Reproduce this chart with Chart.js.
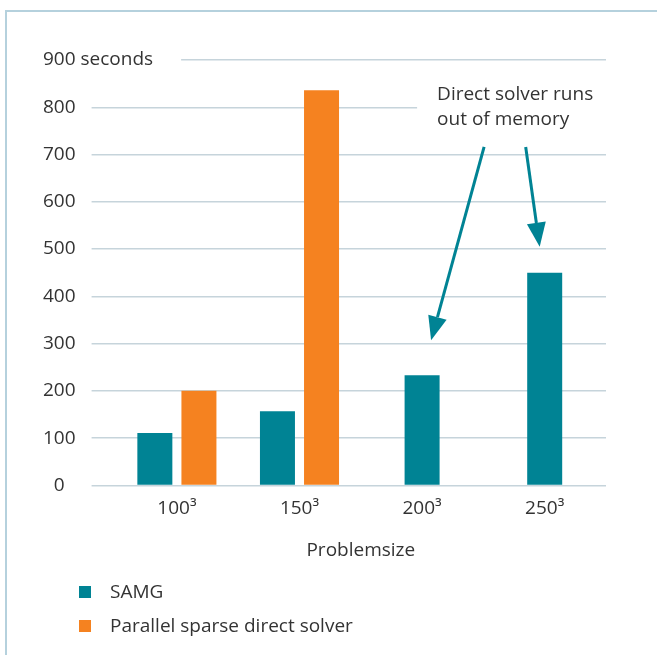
<!DOCTYPE html>
<html><head><meta charset="utf-8">
<script src="https://cdn.jsdelivr.net/npm/chart.js@4"></script>
<style>
html,body{margin:0;padding:0;background:#fff;}
#wrap{position:relative;width:657px;height:655px;overflow:hidden;}
#frame{position:absolute;left:5px;top:10px;width:670px;height:670px;border-top:2px solid #b5d1dd;border-left:2px solid #b5d1dd;}
canvas{position:absolute;left:0;top:0;}
</style></head><body>
<div id="wrap"><div id="frame"></div><canvas id="c" width="657" height="655"></canvas></div>
<script>
const categories = ['100³', '150³', '200³', '250³'];
const samgValues = [111, 157, 233, 450];
const directValues = [200, 836, null, null];
const seriesNames = ['SAMG', 'Parallel sparse direct solver'];
const yMin = 0, yMax = 900, yStep = 100;
const yUnit = 'seconds';
const xTitle = 'Problemsize';
const annotationLines = ['Direct solver runs', 'out of memory'];

const TEAL = '#008394';
const ORANGE = '#F58220';
const TEXT = '#333333';
const GRID = '#c6d4db';

Chart.defaults.font.family = "'Open Sans', sans-serif";
Chart.defaults.font.size = 19;
Chart.defaults.color = TEXT;

function arrow(ctx, x0, y0, x1, y1, color) {
  const ang = Math.atan2(y1 - y0, x1 - x0);
  const len = 24, hw = 9.5;
  const bx = x1 - len * Math.cos(ang), by = y1 - len * Math.sin(ang);
  ctx.strokeStyle = color; ctx.fillStyle = color; ctx.lineWidth = 3;
  ctx.beginPath(); ctx.moveTo(x0, y0); ctx.lineTo(bx, by); ctx.stroke();
  ctx.beginPath();
  ctx.moveTo(x1, y1);
  ctx.lineTo(bx + hw * Math.sin(ang), by - hw * Math.cos(ang));
  ctx.lineTo(bx - hw * Math.sin(ang), by + hw * Math.cos(ang));
  ctx.closePath(); ctx.fill();
}

const extras = {
  id: 'extras',
  beforeDatasetsDraw(chart) {
    const {ctx, scales: {x, y}} = chart;
    ctx.save();
    ctx.font = "19px 'Open Sans', sans-serif";
    const labelRight = y.right - y.options.grid.tickLength - y.options.ticks.padding;
    const yTop = y.getPixelForValue(yMax);
    const unitW = ctx.measureText(' ' + yUnit).width;
    ctx.fillStyle = '#fff';
    ctx.fillRect(labelRight, yTop - 3, unitW + 28, 6);
    // gap in 800 line behind annotation
    const annX = x.getPixelForValue(2) + 15;
    const y800 = y.getPixelForValue(800);
    ctx.fillRect(annX - 20, y800 - 3, chart.width - annX + 20, 6);
    ctx.fillStyle = TEXT;
    ctx.textAlign = 'left'; ctx.textBaseline = 'middle';
    ctx.fillText(' ' + yUnit, labelRight, yTop);
    ctx.restore();
  },
  afterDraw(chart) {
    const {ctx, scales: {x, y}} = chart;
    ctx.save();
    ctx.font = "19px 'Open Sans', sans-serif";
    ctx.fillStyle = TEXT; ctx.textAlign = 'left'; ctx.textBaseline = 'middle';
    const annX = x.getPixelForValue(2) + 15;
    const y800 = y.getPixelForValue(800);
    ctx.fillText(annotationLines[0], annX, y800 - 13);
    ctx.fillText(annotationLines[1], annX, y800 + 12);
    arrow(ctx, x.getPixelForValue(2) + 62, y.getPixelForValue(716), x.getPixelForValue(2) + 9, y.getPixelForValue(307), TEAL);
    arrow(ctx, x.getPixelForValue(3) - 19, y.getPixelForValue(716), x.getPixelForValue(3) - 5, y.getPixelForValue(505), TEAL);
    // legend
    const base = x.bottom + 30;
    chart.data.datasets.forEach((ds, i) => {
      const ry = base + 34 * i;
      ctx.fillStyle = ds.backgroundColor;
      ctx.fillRect(79, ry - 6, 12, 12);
      ctx.fillStyle = TEXT;
      ctx.fillText(ds.label, 110, ry + 1);
    });
    ctx.restore();
  }
};

new Chart(document.getElementById('c'), {
  type: 'bar',
  data: {
    labels: categories,
    datasets: [
      {label: seriesNames[0], data: samgValues, backgroundColor: TEAL},
      {label: seriesNames[1], data: directValues, backgroundColor: ORANGE}
    ]
  },
  options: {
    responsive: false,
    animation: false,
    devicePixelRatio: 1,
    skipNull: true,
    categoryPercentage: 0.719,
    barPercentage: 0.795,
    maxBarThickness: 35,
    layout: {padding: {left: 27, right: 51, top: 60, bottom: 93}},
    plugins: {legend: {display: false}, tooltip: {enabled: false}},
    scales: {
      x: {
        grid: {display: false},
        border: {display: false},
        ticks: {padding: 4, color: TEXT},
        title: {display: true, text: xTitle, color: TEXT, padding: {top: 15, bottom: 0}}
      },
      y: {
        min: yMin, max: yMax,
        border: {display: false},
        grid: {color: GRID, lineWidth: 1.5, tickLength: 24, drawTicks: true},
        ticks: {stepSize: yStep, padding: 16, crossAlign: 'center', color: TEXT}
      }
    }
  },
  plugins: [extras]
});
</script>
</body></html>
